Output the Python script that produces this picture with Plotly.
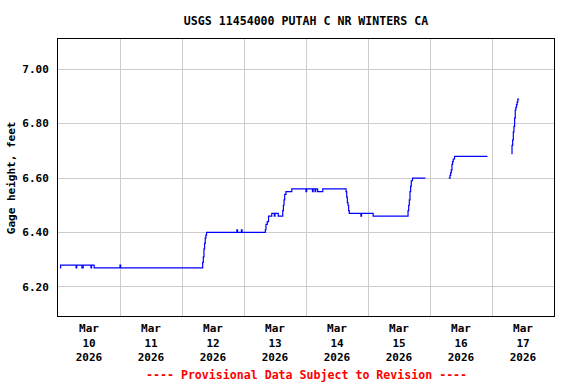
import plotly.graph_objects as go

# ---- data (gage height, feet; None = gap in record) ----
times = [
    "2026-03-10 00:45", "2026-03-10 01:00", "2026-03-10 07:00", "2026-03-10 07:15",
    "2026-03-10 09:15", "2026-03-10 09:45", "2026-03-10 12:45", "2026-03-10 13:00",
    "2026-03-10 14:00", "2026-03-11 00:00", "2026-03-11 00:15",
    "2026-03-12 08:00", "2026-03-12 08:15", "2026-03-12 08:30", "2026-03-12 08:45",
    "2026-03-12 09:00", "2026-03-12 09:15", "2026-03-12 09:30", "2026-03-12 21:15",
    "2026-03-12 21:30", "2026-03-12 23:00", "2026-03-12 23:15",
    "2026-03-13 08:15", "2026-03-13 08:30", "2026-03-13 09:00", "2026-03-13 09:30",
    "2026-03-13 10:45", "2026-03-13 11:45", "2026-03-13 12:00", "2026-03-13 13:15",
    "2026-03-13 15:00", "2026-03-13 15:15", "2026-03-13 15:30", "2026-03-13 15:45",
    "2026-03-13 16:15", "2026-03-13 18:30",
    "2026-03-14 00:00", "2026-03-14 00:15", "2026-03-14 02:30", "2026-03-14 02:45",
    "2026-03-14 03:30", "2026-03-14 03:45", "2026-03-14 04:30", "2026-03-14 06:30",
    "2026-03-14 15:30", "2026-03-14 15:45", "2026-03-14 16:00", "2026-03-14 16:15",
    "2026-03-14 16:30", "2026-03-14 16:45", "2026-03-14 21:15", "2026-03-14 21:30",
    "2026-03-15 02:00", "2026-03-15 15:30", "2026-03-15 15:45", "2026-03-15 16:00",
    "2026-03-15 16:15", "2026-03-15 16:30", "2026-03-15 16:45", "2026-03-15 17:15",
    "2026-03-15 22:15", "2026-03-15 22:30",
    "2026-03-16 07:15", "2026-03-16 07:45", "2026-03-16 08:00", "2026-03-16 08:15",
    "2026-03-16 08:30", "2026-03-16 08:45", "2026-03-16 09:00", "2026-03-16 09:30",
    "2026-03-16 22:15", "2026-03-16 22:30",
    "2026-03-17 07:30", "2026-03-17 07:45", "2026-03-17 08:00", "2026-03-17 08:15",
    "2026-03-17 08:30", "2026-03-17 08:45", "2026-03-17 09:00", "2026-03-17 09:15",
    "2026-03-17 09:30", "2026-03-17 09:45", "2026-03-17 10:00", "2026-03-17 10:30",
]
gage_height = [
    6.27, 6.28, 6.27, 6.28,
    6.27, 6.28, 6.27, 6.28,
    6.27, 6.28, 6.27,
    6.29, 6.31, 6.34, 6.36,
    6.38, 6.39, 6.40, 6.41,
    6.40, 6.41, 6.40,
    6.41, 6.43, 6.44, 6.46,
    6.47, 6.46, 6.47, 6.46,
    6.48, 6.50, 6.52, 6.54,
    6.55, 6.56,
    6.55, 6.56, 6.55, 6.56,
    6.55, 6.56, 6.55, 6.56,
    6.55, 6.53, 6.51, 6.50,
    6.48, 6.47, 6.46, 6.47,
    6.46, 6.48, 6.50, 6.52,
    6.55, 6.57, 6.59, 6.60,
    6.60, None,
    6.60, 6.61, 6.62, 6.63,
    6.65, 6.66, 6.67, 6.68,
    6.68, None,
    6.69, 6.72, 6.74, 6.77,
    6.79, 6.82, 6.85, 6.86,
    6.87, 6.88, 6.89, 6.89,
]

x_tick_vals = ["2026-03-10 12:00", "2026-03-11 12:00", "2026-03-12 12:00", "2026-03-13 12:00",
               "2026-03-14 12:00", "2026-03-15 12:00", "2026-03-16 12:00", "2026-03-17 12:00"]
x_tick_text = ["Mar<br>10<br>2026", "Mar<br>11<br>2026", "Mar<br>12<br>2026", "Mar<br>13<br>2026",
               "Mar<br>14<br>2026", "Mar<br>15<br>2026", "Mar<br>16<br>2026", "Mar<br>17<br>2026"]
x_grid_vals = ["2026-03-11", "2026-03-12", "2026-03-13", "2026-03-14",
               "2026-03-15", "2026-03-16", "2026-03-17"]
y_tick_vals = [6.2, 6.4, 6.6, 6.8, 7.0]
y_tick_text = ["6.20", "6.40", "6.60", "6.80", "7.00"]

title_text = "USGS 11454000 PUTAH C NR WINTERS CA"
y_title = "Gage height, feet"
footer = "---- Provisional Data Subject to Revision ----"

FONT = "DejaVu Sans Mono"

fig = go.Figure()
fig.add_trace(go.Scatter(
    x=times, y=gage_height, mode="lines",
    line=dict(color="#0000ff", width=1.2, shape="hv"),
    connectgaps=False, showlegend=False, hoverinfo="x+y",
))

fig.update_layout(
    width=576, height=384,
    margin=dict(l=58, r=22, t=39, b=68),
    paper_bgcolor="white", plot_bgcolor="white",
    font=dict(family=FONT, size=11, color="black", weight="bold"),
    title=dict(text=title_text, x=(58 + 248) / 576, xanchor="center",
               y=1 - 20.5 / 384, yanchor="middle", yref="container",
               font=dict(family=FONT, size=11.6, color="black", weight="bold")),
    xaxis=dict(
        type="date", range=["2026-03-10", "2026-03-18"],
        tickmode="array", tickvals=x_tick_vals, ticktext=x_tick_text,
        ticks="", showgrid=False, zeroline=False,
        showline=True, mirror=True, linecolor="black", linewidth=1,
        tickfont=dict(family=FONT, size=11, color="black", weight="bold"),
        ticklabelstandoff=2,
        minor=dict(tickmode="array", tickvals=x_grid_vals, showgrid=True,
                   gridcolor="#cccccc", gridwidth=1, ticks=""),
    ),
    yaxis=dict(
        range=[6.093, 7.111],
        tickmode="array", tickvals=y_tick_vals, ticktext=y_tick_text,
        ticks="", showgrid=True, gridcolor="#cccccc", gridwidth=1, zeroline=False,
        showline=True, mirror=True, linecolor="black", linewidth=1,
        tickfont=dict(family=FONT, size=11, color="black", weight="bold"),
        ticklabelstandoff=6,
    ),
    annotations=[
        dict(text=y_title, textangle=-90, xref="paper", yref="paper",
             x=(11.7 - 58) / 496, y=0.5, xanchor="center", yanchor="middle",
             showarrow=False,
             font=dict(family=FONT, size=11, color="black", weight="bold")),
        dict(text=footer, xref="paper", yref="paper",
             x=0.5, y=-(375 - 316) / 277, xanchor="center", yanchor="middle",
             showarrow=False,
             font=dict(family=FONT, size=11.6, color="red", weight="bold")),
    ],
)

fig.write_html("out.html",
               config={"displayModeBar": False},
               post_script="document.body.style.margin='0';document.body.style.overflow='hidden';")
